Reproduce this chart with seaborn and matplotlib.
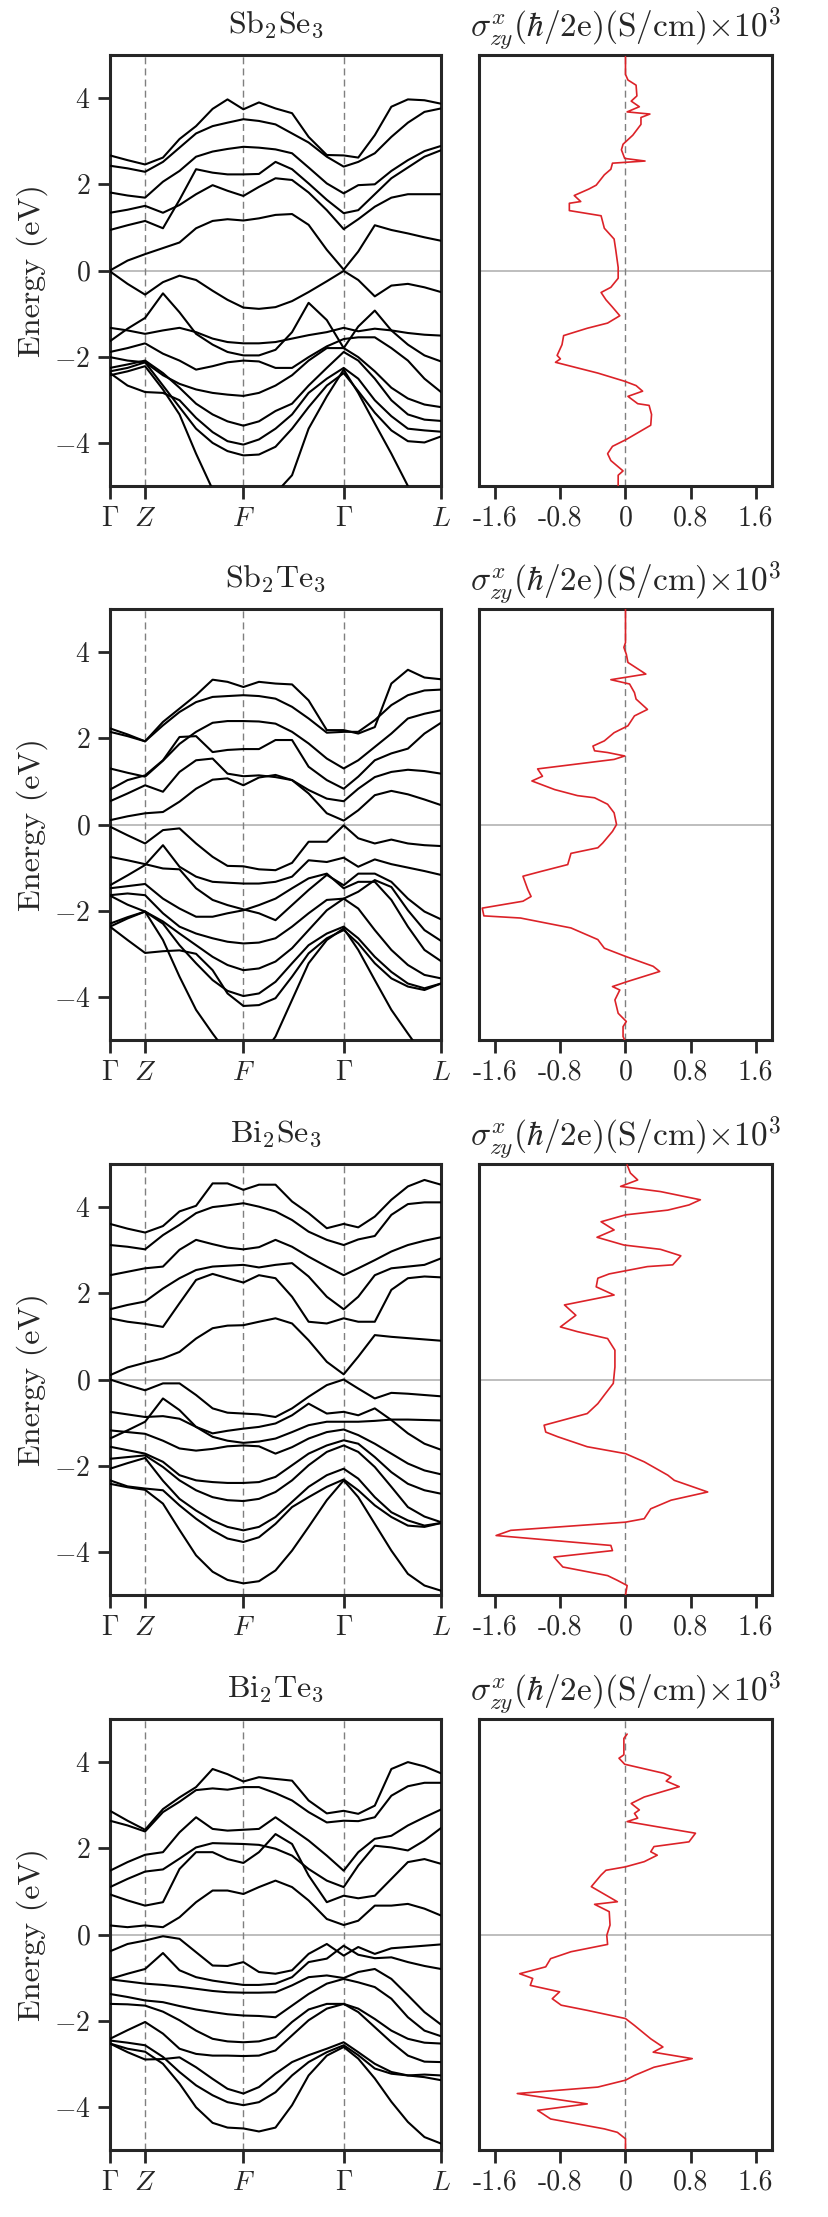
import numpy as np
import pandas as pd
import matplotlib
matplotlib.use("Agg")
import matplotlib.pyplot as plt
import seaborn as sns

# k-path sampling (fraction of path length) and high-symmetry points
K_FRAC = [0.0, 0.053, 0.106, 0.16, 0.21, 0.26, 0.31, 0.355, 0.403, 0.45, 0.50,
          0.55, 0.60, 0.655, 0.706, 0.75, 0.80, 0.85, 0.90, 0.95, 1.0]
HSYM_POS = [0.0, 0.106, 0.403, 0.706, 1.0]
HSYM_LABELS = [r'$\Gamma$', r'$Z$', r'$F$', r'$\Gamma$', r'$L$']
SHC_TICKS = [-1.6, -0.8, 0, 0.8, 1.6]
SHC_TICKLABELS = ['-1.6', '-0.8', '0', '0.8', '1.6']
TITLES = [r'Sb$_2$Se$_3$', r'Sb$_2$Te$_3$', r'Bi$_2$Se$_3$', r'Bi$_2$Te$_3$']
SHC_TITLE = r'$\sigma^{x}_{zy}(\hbar/2\mathrm{e})(\mathrm{S/cm}){\times}10^3$'

# band energies (eV), one list per band
SB2SE3_BANDS = [
    [2.67, 2.56, 2.46, 2.62, 3.05, 3.35, 3.75, 3.97, 3.74, 3.90, 3.76, 3.65, 3.10, 2.68, 2.67, 2.62, 3.14, 3.80, 3.97, 3.95, 3.87],
    [2.43, 2.37, 2.29, 2.52, 2.85, 3.18, 3.35, 3.43, 3.51, 3.47, 3.39, 3.18, 2.97, 2.64, 2.41, 2.52, 2.72, 3.10, 3.43, 3.68, 3.76],
    [1.81, 1.74, 1.69, 2.06, 2.31, 2.64, 2.76, 2.82, 2.87, 2.85, 2.81, 2.72, 2.39, 2.02, 1.79, 1.98, 2.00, 2.31, 2.56, 2.77, 2.89],
    [0.94, 1.05, 1.15, 0.98, 1.64, 2.35, 2.27, 2.23, 2.23, 2.24, 2.52, 2.35, 2.02, 1.64, 1.33, 1.40, 1.77, 2.14, 2.39, 2.64, 2.79],
    [1.34, 1.41, 1.50, 1.34, 1.52, 1.77, 1.98, 1.85, 1.73, 1.94, 2.14, 2.10, 1.81, 1.40, 0.96, 1.19, 1.48, 1.69, 1.77, 1.77, 1.77],
    [0.00, 0.23, 0.38, 0.52, 0.65, 0.98, 1.15, 1.19, 1.16, 1.21, 1.29, 1.31, 1.06, 0.48, 0.02, 0.44, 1.05, 0.94, 0.86, 0.77, 0.69],
    [-0.02, -0.31, -0.56, -0.27, -0.12, -0.22, -0.47, -0.68, -0.86, -0.89, -0.85, -0.71, -0.50, -0.25, -0.01, -0.22, -0.60, -0.35, -0.31, -0.39, -0.50],
    [-1.64, -1.35, -1.10, -0.53, -0.97, -1.47, -1.72, -1.89, -1.97, -1.97, -1.84, -1.43, -0.75, -1.15, -1.80, -1.30, -0.93, -1.39, -1.72, -1.97, -2.11],
    [-1.33, -1.39, -1.47, -1.39, -1.33, -1.43, -1.58, -1.66, -1.69, -1.69, -1.66, -1.58, -1.50, -1.43, -1.33, -1.41, -1.35, -1.39, -1.45, -1.49, -1.51],
    [-1.89, -1.80, -1.69, -1.93, -2.09, -2.30, -2.22, -2.13, -2.09, -2.11, -2.26, -2.26, -2.01, -1.76, -1.59, -1.55, -1.55, -1.80, -2.09, -2.51, -2.82],
    [-2.01, -2.09, -2.13, -2.43, -2.63, -2.76, -2.84, -2.88, -2.91, -2.84, -2.67, -2.43, -2.09, -1.80, -1.80, -2.01, -2.34, -2.72, -2.97, -3.11, -3.17],
    [-2.26, -2.18, -2.09, -2.38, -2.72, -3.09, -3.34, -3.50, -3.60, -3.50, -3.26, -3.09, -2.67, -2.26, -1.89, -2.09, -2.51, -3.01, -3.34, -3.46, -3.49],
    [-2.38, -2.67, -2.82, -2.84, -3.01, -3.42, -3.75, -3.96, -4.04, -3.92, -3.67, -3.34, -2.84, -2.51, -2.26, -2.51, -3.01, -3.38, -3.67, -3.71, -3.74],
    [-2.34, -2.26, -2.13, -2.67, -3.17, -3.67, -4.00, -4.19, -4.29, -4.27, -4.09, -3.67, -3.17, -2.67, -2.38, -2.80, -3.30, -3.71, -3.96, -3.99, -3.85],
    [-2.43, -2.34, -2.22, -2.76, -3.34, -4.25, -5.08, -5.66, -6.00, -5.66, -5.17, -4.75, -3.67, -2.92, -2.30, -2.84, -3.55, -4.25, -5.00, -5.58, -6.00],
]
SB2TE3_BANDS = [
    [2.23, 2.09, 1.93, 2.38, 2.69, 3.00, 3.36, 3.31, 3.19, 3.31, 3.27, 3.25, 2.88, 2.19, 2.19, 2.11, 2.26, 3.27, 3.59, 3.41, 3.37],
    [2.15, 2.05, 1.93, 2.30, 2.61, 2.84, 2.96, 2.98, 3.00, 2.98, 2.92, 2.73, 2.46, 2.13, 2.15, 2.15, 2.42, 2.77, 3.00, 3.11, 3.13],
    [1.30, 1.20, 1.11, 1.48, 1.87, 2.15, 2.36, 2.40, 2.40, 2.39, 2.34, 2.15, 1.88, 1.53, 1.30, 1.49, 1.80, 2.11, 2.46, 2.57, 2.65],
    [0.81, 1.03, 1.14, 1.49, 2.03, 2.05, 1.68, 1.73, 1.75, 1.75, 1.96, 1.96, 1.34, 1.03, 0.83, 1.11, 1.49, 1.65, 1.76, 2.11, 2.36],
    [0.54, 0.72, 0.91, 0.76, 1.22, 1.49, 1.53, 1.18, 1.12, 1.14, 1.10, 1.03, 0.80, 0.60, 0.54, 0.83, 1.10, 1.22, 1.27, 1.24, 1.18],
    [0.10, 0.19, 0.26, 0.29, 0.53, 0.83, 1.04, 1.07, 0.91, 1.09, 1.15, 1.03, 0.72, 0.26, 0.09, 0.33, 0.68, 0.78, 0.70, 0.58, 0.45],
    [-0.05, -0.25, -0.44, -0.13, -0.09, -0.44, -0.75, -0.96, -0.97, -1.04, -1.06, -0.89, -0.40, -0.40, -0.02, -0.32, -0.44, -0.35, -0.44, -0.48, -0.50],
    [-1.41, -1.18, -0.94, -0.48, -0.98, -1.21, -1.33, -1.35, -1.37, -1.37, -1.33, -1.21, -0.83, -0.87, -0.77, -0.98, -0.81, -0.92, -1.00, -1.08, -1.17],
    [-0.75, -0.83, -0.92, -1.02, -1.04, -1.48, -1.75, -1.87, -1.97, -2.06, -2.22, -1.87, -1.52, -1.17, -1.41, -1.14, -1.14, -1.33, -1.72, -2.02, -2.20],
    [-1.64, -1.60, -1.64, -2.06, -2.37, -2.53, -2.64, -2.72, -2.76, -2.74, -2.64, -2.37, -2.06, -1.75, -1.72, -1.56, -1.29, -1.45, -1.99, -2.45, -2.70],
    [-1.48, -1.43, -1.38, -1.72, -1.95, -2.14, -2.14, -2.06, -1.99, -1.87, -1.72, -1.48, -1.25, -1.14, -1.48, -1.33, -1.33, -1.75, -2.37, -2.91, -3.17],
    [-1.65, -1.86, -2.02, -2.25, -2.53, -2.80, -3.07, -3.26, -3.38, -3.34, -3.18, -2.87, -2.45, -1.99, -1.72, -1.95, -2.45, -2.91, -3.26, -3.49, -3.57],
    [-2.37, -2.18, -2.02, -2.30, -2.80, -3.22, -3.61, -3.86, -3.98, -3.92, -3.65, -3.22, -2.80, -2.53, -2.37, -2.64, -3.07, -3.42, -3.69, -3.80, -3.69],
    [-2.37, -2.68, -2.98, -2.94, -2.92, -3.00, -3.38, -3.92, -4.21, -4.19, -4.03, -3.53, -2.99, -2.64, -2.45, -2.76, -3.22, -3.57, -3.76, -3.84, -3.69],
    [-2.30, -2.15, -2.02, -2.68, -3.53, -4.30, -4.85, -5.31, -5.54, -5.46, -4.92, -4.07, -3.22, -2.68, -2.41, -2.91, -3.61, -4.30, -4.85, -5.39, -5.77],
]
BI2SE3_BANDS = [
    [3.61, 3.50, 3.41, 3.56, 3.90, 4.03, 4.55, 4.55, 4.40, 4.52, 4.52, 4.13, 3.86, 3.51, 3.61, 3.53, 3.78, 4.17, 4.48, 4.63, 4.52],
    [3.12, 3.08, 3.02, 3.35, 3.59, 3.86, 4.00, 4.04, 4.09, 4.01, 3.90, 3.70, 3.43, 3.24, 3.12, 3.25, 3.33, 3.82, 4.07, 4.11, 4.11],
    [2.42, 2.50, 2.58, 2.62, 3.01, 3.24, 3.14, 3.06, 3.02, 3.07, 3.24, 3.08, 2.85, 2.62, 2.42, 2.58, 2.77, 2.97, 3.12, 3.22, 3.30],
    [1.63, 1.73, 1.81, 2.11, 2.35, 2.54, 2.62, 2.64, 2.66, 2.60, 2.66, 2.70, 2.39, 1.92, 1.63, 1.92, 2.42, 2.58, 2.62, 2.66, 2.81],
    [1.42, 1.34, 1.29, 1.22, 1.77, 2.31, 2.45, 2.35, 2.25, 2.42, 2.35, 1.92, 1.34, 1.30, 1.42, 1.34, 1.34, 2.08, 2.35, 2.39, 2.37],
    [0.10, 0.28, 0.39, 0.49, 0.64, 0.95, 1.19, 1.25, 1.26, 1.34, 1.42, 1.30, 0.91, 0.41, 0.12, 0.53, 1.03, 0.99, 0.96, 0.93, 0.90],
    [0.00, -0.13, -0.25, -0.09, -0.09, -0.36, -0.67, -0.77, -0.79, -0.81, -0.87, -0.67, -0.40, -0.13, 0.00, -0.21, -0.44, -0.31, -0.33, -0.36, -0.39],
    [-1.37, -1.18, -0.98, -0.44, -0.71, -1.10, -1.25, -1.19, -1.14, -1.10, -1.02, -0.83, -0.56, -0.79, -0.75, -0.83, -0.67, -0.94, -1.25, -1.49, -1.63],
    [-0.75, -0.81, -0.87, -0.85, -0.91, -1.10, -1.33, -1.42, -1.47, -1.44, -1.37, -1.22, -1.06, -0.98, -0.98, -0.98, -0.96, -0.93, -0.93, -0.94, -0.95],
    [-1.18, -1.22, -1.26, -1.42, -1.60, -1.65, -1.61, -1.55, -1.53, -1.55, -1.72, -1.57, -1.37, -1.22, -1.16, -1.29, -1.49, -1.72, -1.95, -2.11, -2.20],
    [-1.56, -1.64, -1.72, -1.91, -2.22, -2.34, -2.38, -2.40, -2.40, -2.38, -2.26, -1.99, -1.72, -1.53, -1.41, -1.49, -1.80, -2.15, -2.42, -2.57, -2.65],
    [-1.84, -1.80, -1.76, -2.03, -2.34, -2.57, -2.73, -2.80, -2.82, -2.77, -2.61, -2.34, -1.99, -1.68, -1.53, -1.68, -2.03, -2.49, -2.96, -3.18, -3.31],
    [-2.07, -1.94, -1.82, -2.35, -2.77, -3.04, -3.27, -3.42, -3.50, -3.42, -3.19, -2.84, -2.49, -2.22, -2.07, -2.30, -2.73, -3.08, -3.27, -3.39, -3.33],
    [-2.34, -2.48, -2.53, -2.57, -2.92, -3.23, -3.50, -3.69, -3.77, -3.66, -3.35, -2.96, -2.73, -2.49, -2.32, -2.57, -2.92, -3.19, -3.39, -3.42, -3.33],
    [-2.42, -2.50, -2.56, -2.88, -3.49, -4.08, -4.46, -4.65, -4.73, -4.68, -4.43, -3.97, -3.42, -2.80, -2.34, -2.73, -3.35, -3.97, -4.51, -4.78, -4.90],
]
BI2TE3_BANDS = [
    [2.87, 2.64, 2.43, 2.91, 3.18, 3.42, 3.84, 3.72, 3.55, 3.65, 3.61, 3.57, 3.11, 2.81, 2.87, 2.80, 2.99, 3.84, 4.00, 3.90, 3.74],
    [2.64, 2.53, 2.39, 2.84, 3.08, 3.35, 3.39, 3.36, 3.42, 3.42, 3.28, 3.11, 2.84, 2.60, 2.64, 2.63, 2.72, 3.22, 3.44, 3.52, 3.52],
    [1.48, 1.68, 1.85, 1.91, 2.37, 2.72, 2.45, 2.41, 2.43, 2.45, 2.72, 2.45, 2.18, 1.83, 1.48, 1.91, 2.22, 2.29, 2.53, 2.72, 2.90],
    [1.10, 1.29, 1.46, 1.51, 1.76, 2.02, 2.12, 2.11, 2.10, 2.08, 1.99, 1.83, 1.52, 1.25, 1.10, 1.60, 2.06, 2.02, 1.95, 2.18, 2.47],
    [0.93, 0.79, 0.67, 0.75, 1.52, 1.91, 1.91, 1.75, 1.66, 1.91, 2.33, 2.10, 1.37, 0.75, 0.90, 0.84, 0.90, 1.29, 1.68, 1.75, 1.64],
    [0.21, 0.17, 0.21, 0.17, 0.40, 0.75, 1.02, 1.02, 0.94, 1.10, 1.25, 1.10, 0.79, 0.36, 0.22, 0.32, 0.67, 0.67, 0.71, 0.60, 0.44],
    [-0.39, -0.22, -0.14, -0.04, -0.10, -0.41, -0.72, -0.73, -0.64, -0.87, -0.91, -0.83, -0.45, -0.22, -0.49, -0.29, -0.45, -0.32, -0.29, -0.26, -0.23],
    [-1.03, -0.91, -0.80, -0.43, -0.83, -0.99, -1.07, -1.12, -1.17, -1.17, -1.14, -0.99, -0.64, -0.56, -0.26, -0.47, -0.55, -0.53, -0.64, -0.73, -0.80],
    [-1.04, -1.09, -1.14, -1.17, -1.21, -1.26, -1.31, -1.34, -1.35, -1.35, -1.34, -1.18, -0.99, -0.95, -1.01, -0.87, -0.80, -1.03, -1.41, -1.80, -2.09],
    [-1.38, -1.45, -1.53, -1.57, -1.66, -1.74, -1.80, -1.85, -1.88, -1.89, -1.92, -1.65, -1.38, -1.14, -1.03, -1.11, -1.22, -1.49, -1.92, -2.23, -2.36],
    [-1.61, -1.62, -1.65, -1.79, -1.99, -2.23, -2.42, -2.48, -2.50, -2.48, -2.38, -2.03, -1.74, -1.61, -1.61, -1.72, -1.96, -2.23, -2.42, -2.51, -2.53],
    [-2.42, -2.22, -2.03, -2.30, -2.65, -2.77, -2.81, -2.81, -2.82, -2.81, -2.69, -2.34, -1.99, -1.72, -1.61, -1.80, -2.15, -2.50, -2.81, -2.95, -2.96],
    [-2.53, -2.73, -2.90, -2.89, -2.85, -3.08, -3.35, -3.58, -3.69, -3.54, -3.23, -2.96, -2.80, -2.65, -2.50, -2.73, -3.00, -3.19, -3.27, -3.31, -3.38],
    [-2.46, -2.51, -2.57, -2.84, -3.19, -3.50, -3.73, -3.89, -3.96, -3.89, -3.66, -3.27, -2.96, -2.73, -2.57, -2.80, -3.11, -3.23, -3.27, -3.25, -3.27],
    [-2.53, -2.65, -2.72, -3.00, -3.46, -4.01, -4.37, -4.48, -4.50, -4.57, -4.48, -3.96, -3.27, -2.81, -2.61, -2.88, -3.34, -3.88, -4.35, -4.70, -4.85],
]

# spin Hall conductivity curves: energy (eV) and sigma (x10^3 S/cm)
SB2SE3_SHC_E = [4.96, 4.55, 4.42, 4.30, 4.05, 3.93, 3.80, 3.68, 3.63, 3.55, 3.39, 3.14, 2.93, 2.80, 2.60, 2.54, 2.49, 2.35, 2.22, 1.98,
                1.89, 1.74, 1.60, 1.56, 1.39, 1.27, 0.98, 0.73, 0.48, 0.07, -0.18, -0.39, -0.51, -0.68, -0.85, -1.05, -1.22, -1.34, -1.51, -1.72,
                -1.97, -2.05, -2.13, -2.26, -2.38, -2.57, -2.67, -2.80, -2.92, -3.09, -3.13, -3.34, -3.59, -3.92, -4.08, -4.25, -4.41, -4.65, -4.75, -5.0]
SB2SE3_SHC_S = [0, 0, 0.03, 0.13, 0.14, 0.07, 0.17, 0.02, 0.30, 0.19, 0.19, 0.09, -0.03, -0.05, -0.01, 0.24, -0.16, -0.18, -0.26, -0.36,
                -0.45, -0.63, -0.55, -0.69, -0.69, -0.30, -0.26, -0.14, -0.12, -0.09, -0.09, -0.18, -0.30, -0.24, -0.16, -0.07, -0.22, -0.47, -0.76, -0.78,
                -0.84, -0.80, -0.86, -0.59, -0.34, -0.01, 0.13, 0.21, 0.03, 0.15, 0.29, 0.32, 0.31, 0.01, -0.16, -0.22, -0.18, -0.03, -0.09, -0.09]
SB2TE3_SHC_E = [5.0, 4.22, 4.11, 3.95, 3.76, 3.49, 3.36, 3.26, 3.06, 2.91, 2.67, 2.52, 2.29, 2.13, 1.94, 1.82, 1.71, 1.67, 1.59, 1.51,
                1.29, 1.12, 1.01, 0.81, 0.67, 0.62, 0.47, 0.27, 0.0, -0.16, -0.43, -0.54, -0.67, -0.93, -1.09, -1.20, -1.51, -1.67, -1.78, -1.94,
                -2.12, -2.17, -2.40, -2.67, -2.87, -3.06, -3.29, -3.41, -3.64, -3.76, -3.84, -4.07, -4.38, -4.57, -4.69, -4.92, -5.0]
SB2TE3_SHC_S = [0, 0, -0.02, 0.01, 0.03, 0.25, -0.18, 0.05, 0.11, 0.13, 0.27, 0.11, 0.03, -0.14, -0.26, -0.40, -0.38, -0.22, -0.01, -0.14,
                -1.08, -1.02, -1.15, -0.87, -0.59, -0.38, -0.22, -0.14, -0.11, -0.16, -0.28, -0.34, -0.67, -0.71, -1.04, -1.26, -1.20, -1.16, -1.26, -1.76,
                -1.74, -1.29, -0.67, -0.34, -0.26, 0, 0.34, 0.42, 0.03, -0.16, -0.07, -0.13, -0.09, 0.01, -0.03, -0.03, -0.01]
BI2SE3_SHC_E = [4.98, 4.79, 4.63, 4.48, 4.36, 4.17, 4.05, 3.93, 3.82, 3.66, 3.47, 3.30, 3.12, 3.02, 2.87, 2.66, 2.62, 2.45, 2.35, 2.15,
                1.96, 1.73, 1.49, 1.22, 1.11, 0.95, 0.68, 0.29, -0.09, -0.36, -0.56, -0.79, -1.06, -1.22, -1.33, -1.56, -1.72, -1.91, -2.22, -2.34,
                -2.61, -2.80, -3.00, -3.23, -3.31, -3.50, -3.62, -3.85, -3.97, -4.12, -4.35, -4.55, -4.66, -4.78, -5.0]
BI2SE3_SHC_S = [0.02, 0.06, 0.15, -0.06, 0.43, 0.92, 0.78, 0.52, 0, -0.30, -0.14, -0.35, -0.02, 0.43, 0.68, 0.58, 0.27, -0.20, -0.34, -0.36,
                -0.14, -0.75, -0.61, -0.80, -0.59, -0.22, -0.13, -0.13, -0.15, -0.26, -0.34, -0.47, -1.00, -0.98, -0.83, -0.47, 0, 0.23, 0.52, 0.60,
                1.01, 0.56, 0.31, 0.23, 0, -1.41, -1.59, -0.18, -0.16, -0.88, -0.77, -0.22, -0.10, 0.02, 0]
BI2TE3_SHC_E = [4.65, 4.55, 4.17, 4.09, 3.95, 3.74, 3.66, 3.56, 3.43, 3.19, 3.04, 2.89, 2.81, 2.70, 2.62, 2.50, 2.35, 2.15, 2.04, 1.92,
                1.84, 1.69, 1.57, 1.49, 1.38, 1.11, 0.76, 0.70, 0.53, 0.22, -0.02, -0.23, -0.40, -0.56, -0.75, -0.91, -1.02, -1.18, -1.33, -1.49,
                -1.64, -1.76, -1.95, -2.11, -2.42, -2.61, -2.73, -2.88, -3.08, -3.27, -3.38, -3.54, -3.69, -3.93, -4.08, -4.28, -4.51, -4.59, -4.74, -4.97]
BI2TE3_SHC_S = [0.02, -0.02, -0.02, -0.08, -0.01, 0.47, 0.56, 0.50, 0.66, 0.23, 0.07, 0.17, 0.11, 0.15, 0.02, 0.39, 0.86, 0.78, 0.35, 0.31,
                0.39, 0.23, 0, -0.24, -0.30, -0.42, -0.10, -0.38, -0.20, -0.19, -0.23, -0.22, -0.67, -0.92, -0.98, -1.30, -1.14, -1.17, -0.81, -0.90,
                -0.79, -0.47, 0, 0.11, 0.31, 0.46, 0.34, 0.82, 0.35, 0.11, 0, -0.34, -1.33, -0.47, -1.08, -0.92, -0.26, -0.10, 0, 0]

ALL_BANDS = [SB2SE3_BANDS, SB2TE3_BANDS, BI2SE3_BANDS, BI2TE3_BANDS]
ALL_SHC = [(SB2SE3_SHC_S, SB2SE3_SHC_E), (SB2TE3_SHC_S, SB2TE3_SHC_E),
           (BI2SE3_SHC_S, BI2SE3_SHC_E), (BI2TE3_SHC_S, BI2TE3_SHC_E)]

sns.set_style("ticks")
plt.rcParams['font.family'] = 'serif'
plt.rcParams['font.serif'] = ['cmr10', 'DejaVu Serif']
plt.rcParams['mathtext.fontset'] = 'cm'
plt.rcParams['axes.formatter.use_mathtext'] = True
plt.rcParams['axes.unicode_minus'] = True

W, H = 829, 2217
fig = plt.figure(figsize=(W / 100, H / 100), dpi=100)

ROW_TOPS = [55, 609, 1164, 1719]
AX_H = 431
RED = '#dc2228'
FS = 20

for i, top in enumerate(ROW_TOPS):
    bottom = 1 - (top + AX_H) / H
    axb = fig.add_axes([110 / W, bottom, 331 / W, AX_H / H])
    axs = fig.add_axes([479 / W, bottom, 293 / W, AX_H / H])

    # band structure
    rows = []
    for b, en in enumerate(ALL_BANDS[i]):
        for k, e in zip(K_FRAC, en):
            rows.append((b, k, e))
    df = pd.DataFrame(rows, columns=['band', 'k', 'E'])
    axb.axhline(0, color='#b3b3b3', lw=1.2, zorder=1)
    for p in HSYM_POS[1:-1]:
        axb.axvline(p, color='#7f7f7f', lw=1.0, dashes=(5, 3), zorder=1)
    sns.lineplot(data=df, x='k', y='E', units='band', estimator=None, sort=False,
                 color='black', lw=1.5, ax=axb, zorder=3)
    axb.set_xlim(0, 1)
    axb.set_ylim(-5, 5)
    axb.set_xticks(HSYM_POS)
    axb.set_xticklabels(HSYM_LABELS)
    axb.set_yticks([-4, -2, 0, 2, 4])
    axb.set_xlabel('')
    axb.set_ylabel('Energy (eV)', fontsize=23)
    axb.set_title(TITLES[i], fontsize=23, pad=16)

    # spin Hall conductivity
    s, e = ALL_SHC[i]
    axs.axhline(0, color='#b3b3b3', lw=1.2, zorder=1)
    axs.axvline(0, color='#7f7f7f', lw=1.0, dashes=(5, 3), zorder=1)
    sns.lineplot(x=s, y=e, sort=False, estimator=None, color=RED, lw=1.2, ax=axs, zorder=3)
    axs.set_xlim(-1.8, 1.8)
    axs.set_ylim(-5, 5)
    axs.set_xticks(SHC_TICKS)
    axs.set_xticklabels(SHC_TICKLABELS)
    axs.set_yticks([])
    axs.set_xlabel('')
    axs.set_ylabel('')
    axs.set_title(SHC_TITLE, fontsize=24, pad=13)

    for ax in (axb, axs):
        for sp in ax.spines.values():
            sp.set_linewidth(2.2)
        ax.tick_params(direction='out', length=9, width=2.0, labelsize=FS, pad=5)

fig.savefig('out.png', dpi=100)
